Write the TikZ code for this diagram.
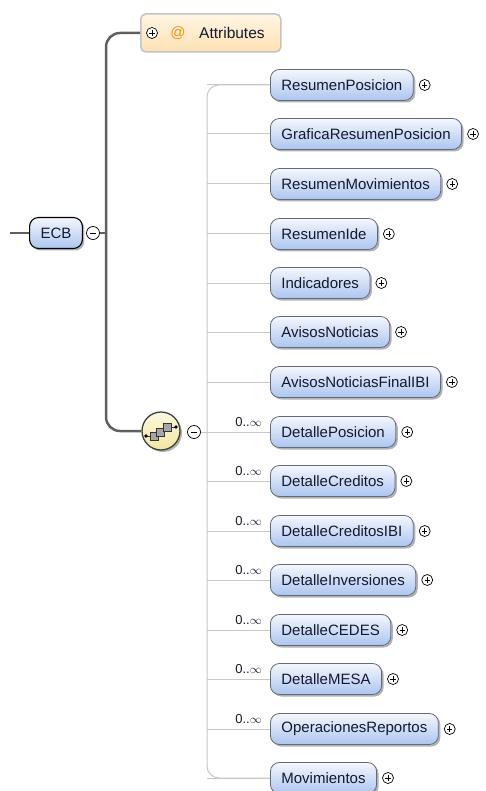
\documentclass[tikz,border=0pt]{standalone}
\usepackage{fontspec}
\setmainfont{Liberation Sans}
\usetikzlibrary{positioning,shadows}

\definecolor{elemtop}{RGB}{244,247,253}
\definecolor{elembot}{RGB}{172,197,240}
\definecolor{elemline}{RGB}{100,106,120}
\definecolor{elemtext}{RGB}{20,25,45}
\definecolor{seqlink}{RGB}{200,200,200}
\definecolor{trunkgray}{RGB}{95,95,95}
\definecolor{attrtop}{RGB}{255,246,228}
\definecolor{attrbot}{RGB}{253,224,178}
\definecolor{attrline}{RGB}{195,195,195}
\definecolor{atorange}{RGB}{240,150,20}
\definecolor{seqtop}{RGB}{253,250,222}
\definecolor{seqbot}{RGB}{240,230,160}

\tikzset{
  elem/.style={draw=elemline,line width=0.8pt,rounded corners=9pt,
    top color=elemtop,bottom color=elembot,minimum height=31pt,
    inner xsep=11pt,anchor=west,text=elemtext,
    font=\fontsize{15}{17}\selectfont,
    drop shadow={shadow xshift=2pt,shadow yshift=-2pt,fill=black,opacity=.3}},
  root/.style={elem,draw=black,line width=1.1pt},
  pmcirc/.style={circle,draw=black,line width=0.7pt,minimum size=11pt,inner sep=0pt,fill=white},
  plusc/.style={pmcirc,path picture={
    \draw[line width=0.7pt] ([xshift=-2.6pt]path picture bounding box.center) -- ([xshift=2.6pt]path picture bounding box.center);
    \draw[line width=0.7pt] ([yshift=-2.6pt]path picture bounding box.center) -- ([yshift=2.6pt]path picture bounding box.center);}},
  minusc/.style={pmcirc,minimum size=13pt,path picture={
    \draw[line width=0.8pt] ([xshift=-3pt]path picture bounding box.center) -- ([xshift=3pt]path picture bounding box.center);}},
  link/.style={draw=seqlink,line width=1pt},
  trunk/.style={draw=trunkgray,line width=2.5pt},
  mult/.style={anchor=east,inner sep=0pt,text=elemtext,font=\fontsize{13}{15}\selectfont},
  sqbox/.style={draw=black!80,fill=black!35,line width=0.7pt}
}

\begin{document}
\begin{tikzpicture}[x=1pt,y=-1pt]
\useasboundingbox (0,0) rectangle (485,791);

% root element and attributes:
\coordinate (in) at (10,233);
\coordinate (trunkx) at (106,0);
\coordinate (seqbus) at (207,0);
\node[root] (ecb) at (29,233) {ECB};
\node[minusc] (ecbm) at (93,233) {};
\draw[trunk] (in) -- (ecb.west);
\draw[trunk] (ecbm.east) -- (ecbm.east -| trunkx);

\node[draw=attrline,line width=1.5pt,rounded corners=5pt,top color=attrtop,bottom color=attrbot,
  minimum width=140pt,minimum height=38pt,anchor=west] (attr) at (140,33) {};
\node[plusc] (attrp) at (152,33) {};
\node[text=atorange,font=\fontsize{15}{17}\selectfont] (attrat) at (178,33) {@};
\node[anchor=west,inner sep=0pt,text=elemtext,font=\fontsize{15.5}{17}\selectfont] (attrtxt) at (199,33) {Attributes};

% sequence compositor:
\node[circle,draw=black!75,line width=1.3pt,minimum size=38pt,inner sep=0pt,
  top color=seqtop,bottom color=seqbot,
  drop shadow={shadow xshift=2pt,shadow yshift=-2pt,fill=black,opacity=.3}] (seq) at (161,431) {};
\node[minusc] (seqm) at (194,432) {};
\draw[trunk,rounded corners=14pt] (attr.west) -- (attr.west -| trunkx) -- (seq.west -| trunkx) -- (seq.west);
\begin{scope}[shift={(161,431)}]
\draw[black!80,line width=0.9pt] (-15,5) -- (-10,5) (10,-4) -- (15,-4);
\fill[black] (-15,5) circle (1.9);
\fill[black] (15,-4) circle (1.9);
\draw[sqbox] (-11,1) rectangle (-3,9);
\draw[sqbox] (-5,-3) rectangle (3,5);
\draw[sqbox] (2,-8) rectangle (10,0);
\end{scope}

% child elements:
\draw[link] (seqm.east) -- (seqm.east -| seqbus);
\foreach \nm/\txt/\yy/\mul in {rp/ResumenPosicion/85/0,grp/GraficaResumenPosicion/134/0,
    rm/ResumenMovimientos/184/0,ri/ResumenIde/234/0,ind/Indicadores/283/0,
    an/AvisosNoticias/332/0,anf/AvisosNoticiasFinalIBI/382/0,dp/DetallePosicion/432/1,
    dc/DetalleCreditos/481/1,dci/DetalleCreditosIBI/531/1,di/DetalleInversiones/580/1,
    dce/DetalleCEDES/630/1,dm/DetalleMESA/679/1,opr/OperacionesReportos/729/1,
    mov/Movimientos/778/0}{
  \node[elem] (\nm) at (270,\yy) {\txt};
  \node[plusc] (\nm-p) at ([xshift=11pt]\nm.east) {};
  \draw[link] (\nm.west -| seqbus) -- (\nm.west);
  \ifnum\mul=1
    \node[mult] (\nm-m) at (262,\yy-10) {0..$\infty$};
  \fi
}
\draw[link,rounded corners=12pt] (rp.west) -- (rp.west -| seqbus) -- (mov.west -| seqbus) -- (mov.west);

\end{tikzpicture}
\end{document}
